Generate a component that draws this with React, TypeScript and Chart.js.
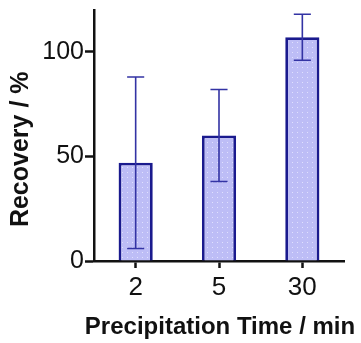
import { useEffect, useRef } from "react";
import { Chart, registerables } from "chart.js";

Chart.register(...registerables);

// Recovery by precipitation time (mean with min/max range)
const categories = ["2", "5", "30"];
const recovery = [47, 60, 107];
const errorLow = [6, 38, 96];
const errorHigh = [88, 82, 118];
const yTickValues = [0, 50, 100];

const yTitle = "Recovery / %";
const xTitle = "Precipitation Time / min";

const FONT = "'Liberation Sans', Arial, Helvetica, sans-serif";
const INK = "#111111";
const BAR_EDGE = "#1a1a8e";
const BAR_FILL = "#bdbdf6";
const DOT = "#e0e0fd";
const WHISKER = "#3333a4";

function dottedFill(): CanvasPattern | string {
  const tile = document.createElement("canvas");
  tile.width = 5;
  tile.height = 5;
  const c = tile.getContext("2d");
  if (!c) return BAR_FILL;
  c.fillStyle = BAR_FILL;
  c.fillRect(0, 0, 5, 5);
  c.fillStyle = DOT;
  c.fillRect(2, 2, 1, 1);
  return c.createPattern(tile, "repeat") ?? BAR_FILL;
}

const whiskers = {
  id: "whiskers",
  afterDatasetsDraw(chart: any) {
    const { ctx } = chart;
    const meta = chart.getDatasetMeta(0);
    const y = chart.scales.y;
    ctx.save();
    ctx.strokeStyle = WHISKER;
    ctx.lineWidth = 1.6;
    meta.data.forEach((bar: any, i: number) => {
      const x = bar.x;
      const half = bar.width / 4;
      const top = y.getPixelForValue(errorHigh[i]);
      const bottom = y.getPixelForValue(errorLow[i]);
      ctx.beginPath();
      ctx.moveTo(x, top);
      ctx.lineTo(x, bottom);
      ctx.moveTo(x - half, top);
      ctx.lineTo(x + half, top);
      ctx.moveTo(x - half, bottom);
      ctx.lineTo(x + half, bottom);
      ctx.stroke();
    });
    ctx.restore();
  },
};

// Axis titles drawn at full width (the built-in title squeezes text to the axis length)
const axisTitles = {
  id: "axisTitles",
  afterDraw(chart: any) {
    const { ctx, chartArea, height } = chart;
    ctx.save();
    ctx.fillStyle = INK;
    ctx.textAlign = "center";
    ctx.textBaseline = "middle";

    ctx.font = `bold 24px ${FONT}`;
    ctx.fillText(xTitle, (chartArea.left + chartArea.right) / 2 + 1, height - 16);

    const cy = chartArea.top + (chartArea.bottom - chartArea.top) * 0.555;
    ctx.translate(21, cy);
    ctx.rotate(-Math.PI / 2);
    ctx.font = `bold 25px ${FONT}`;
    ctx.fillText(yTitle, 0, 0);
    ctx.restore();
  },
};

export default function App() {
  const canvasRef = useRef<HTMLCanvasElement | null>(null);

  useEffect(() => {
    if (!canvasRef.current) return;
    const chart = new Chart(canvasRef.current, {
      type: "bar",
      data: {
        labels: categories,
        datasets: [
          {
            data: recovery,
            backgroundColor: dottedFill() as any,
            borderColor: BAR_EDGE,
            borderWidth: 2.8,
            barPercentage: 0.41,
            categoryPercentage: 1,
          },
        ],
      },
      options: {
        responsive: false,
        animation: false,
        layout: { padding: { top: 10, right: 17, left: 0, bottom: 0 } },
        plugins: {
          legend: { display: false },
          tooltip: { enabled: false },
        },
        scales: {
          x: {
            offset: true,
            grid: {
              offset: false,
              drawOnChartArea: false,
              drawTicks: true,
              tickLength: 7,
              tickColor: INK,
              tickWidth: 2.5,
            },
            border: { color: INK, width: 2.5 },
            ticks: { color: INK, font: { size: 26, family: FONT }, padding: 4 },
            afterFit: (s: any) => {
              s.height = 82;
              s.paddingLeft = 0;
              s.paddingRight = 0;
            },
          },
          y: {
            min: 0,
            max: 120,
            afterBuildTicks: (s: any) => {
              s.ticks = yTickValues.map((v) => ({ value: v }));
            },
            grid: {
              drawOnChartArea: false,
              drawTicks: true,
              tickLength: 9,
              tickColor: INK,
              tickWidth: 2.5,
            },
            border: { color: INK, width: 2.5 },
            ticks: { color: INK, font: { size: 25, family: FONT }, padding: 1 },
            afterFit: (s: any) => {
              s.width = 94;
              s.paddingTop = 0;
              s.paddingBottom = 0;
            },
          },
        },
      },
      plugins: [whiskers, axisTitles],
    });
    return () => chart.destroy();
  }, []);

  return (
    <div style={{ position: "absolute", left: 0, top: 0, width: 361, height: 343, background: "#fff" }}>
      <canvas ref={canvasRef} width={361} height={343} style={{ display: "block" }} />
    </div>
  );
}
